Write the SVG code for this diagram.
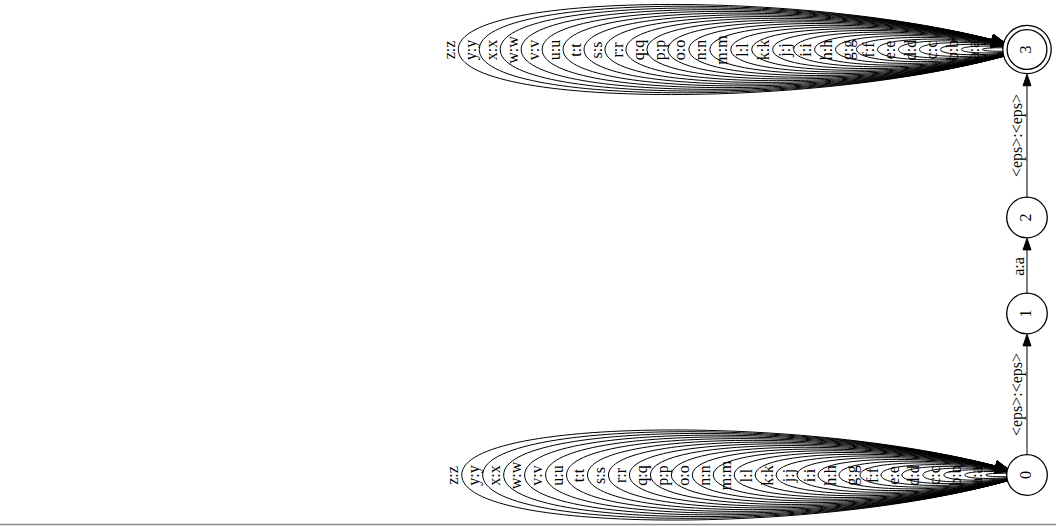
<svg xmlns="http://www.w3.org/2000/svg" width="1056" height="526" viewBox="0 0 1056 526">
<style>
.t{font-family:"Liberation Serif","Times New Roman",serif;font-size:16px;text-anchor:middle;fill:#000}
.lp{fill:none;stroke:#000;stroke-width:1}
.l0{marker-end:url(#h0)}
.l3{marker-end:url(#h3)}
.e{fill:none;stroke:#000;stroke-width:1}
.ah{fill:#000;stroke:#000;stroke-width:1}
.n{fill:#fff;stroke:#000;stroke-width:1.3}
.ni{fill:none;stroke:#000;stroke-width:1.3}
</style>
<defs>
<marker id="h0" markerUnits="userSpaceOnUse" orient="auto" viewBox="-40 -8 44 16" markerWidth="44" markerHeight="16" refX="0" refY="0">
<path d="M-20.9,0L-32.4,-4L-32.4,4Z" fill="#000" stroke="#000" stroke-width="1"/>
</marker>
<marker id="h3" markerUnits="userSpaceOnUse" orient="auto" viewBox="-40 -8 44 16" markerWidth="44" markerHeight="16" refX="0" refY="0">
<path d="M-24.8,0L-36.3,-4L-36.3,4Z" fill="#000" stroke="#000" stroke-width="1"/>
</marker>
</defs>
<rect x="0" y="0" width="1056" height="526" fill="#fff"/>
<line x1="0" y1="524.5" x2="1056" y2="524.5" stroke="#888" stroke-width="1.5"/>
<g id="connectors">
<g id="loops0">
<path class="lp l0" d="M1027,475C1013.25,477.31 985.74,477.31 985.74,475C985.74,472.69 1013.25,472.69 1027,475"/>
<path class="lp l0" d="M1027,475C1006.26,479.62 964.78,479.62 964.78,475C964.78,470.38 1006.26,470.38 1027,475"/>
<path class="lp l0" d="M1027,475C999.27,481.93 943.82,481.93 943.82,475C943.82,468.07 999.27,468.07 1027,475"/>
<path class="lp l0" d="M1027,475C992.29,484.24 922.86,484.24 922.86,475C922.86,465.76 992.29,465.76 1027,475"/>
<path class="lp l0" d="M1027,475C985.30,486.55 901.90,486.55 901.90,475C901.90,463.45 985.30,463.45 1027,475"/>
<path class="lp l0" d="M1027,475C978.31,488.86 880.94,488.86 880.94,475C880.94,461.14 978.31,461.14 1027,475"/>
<path class="lp l0" d="M1027,475C971.33,491.17 859.98,491.17 859.98,475C859.98,458.83 971.33,458.83 1027,475"/>
<path class="lp l0" d="M1027,475C964.34,493.48 839.02,493.48 839.02,475C839.02,456.52 964.34,456.52 1027,475"/>
<path class="lp l0" d="M1027,475C957.35,495.79 818.06,495.79 818.06,475C818.06,454.21 957.35,454.21 1027,475"/>
<path class="lp l0" d="M1027,475C950.37,498.10 797.10,498.10 797.10,475C797.10,451.90 950.37,451.90 1027,475"/>
<path class="lp l0" d="M1027,475C943.38,500.41 776.14,500.41 776.14,475C776.14,449.59 943.38,449.59 1027,475"/>
<path class="lp l0" d="M1027,475C936.39,502.72 755.18,502.72 755.18,475C755.18,447.28 936.39,447.28 1027,475"/>
<path class="lp l0" d="M1027,475C929.41,505.03 734.22,505.03 734.22,475C734.22,444.97 929.41,444.97 1027,475"/>
<path class="lp l0" d="M1027,475C922.42,507.34 713.26,507.34 713.26,475C713.26,442.66 922.42,442.66 1027,475"/>
<path class="lp l0" d="M1027,475C915.43,509.65 692.30,509.65 692.30,475C692.30,440.35 915.43,440.35 1027,475"/>
<path class="lp l0" d="M1027,475C908.45,511.96 671.34,511.96 671.34,475C671.34,438.04 908.45,438.04 1027,475"/>
<path class="lp l0" d="M1027,475C901.46,514.27 650.38,514.27 650.38,475C650.38,435.73 901.46,435.73 1027,475"/>
<path class="lp l0" d="M1027,475C894.47,516.58 629.42,516.58 629.42,475C629.42,433.42 894.47,433.42 1027,475"/>
<path class="lp l0" d="M1027,475C887.49,518.89 608.46,518.89 608.46,475C608.46,431.11 887.49,431.11 1027,475"/>
<path class="lp l0" d="M1027,475C880.50,521.20 587.50,521.20 587.50,475C587.50,428.80 880.50,428.80 1027,475"/>
<path class="lp l0" d="M1027,475C873.51,523.51 566.54,523.51 566.54,475C566.54,426.49 873.51,426.49 1027,475"/>
<path class="lp l0" d="M1027,475C866.53,525.82 545.58,525.82 545.58,475C545.58,424.18 866.53,424.18 1027,475"/>
<path class="lp l0" d="M1027,475C859.54,528.13 524.62,528.13 524.62,475C524.62,421.87 859.54,421.87 1027,475"/>
<path class="lp l0" d="M1027,475C852.55,530.44 503.66,530.44 503.66,475C503.66,419.56 852.55,419.56 1027,475"/>
<path class="lp l0" d="M1027,475C845.57,532.75 482.70,532.75 482.70,475C482.70,417.25 845.57,417.25 1027,475"/>
<path class="lp l0" d="M1027,475C838.58,535.06 461.74,535.06 461.74,475C461.74,414.94 838.58,414.94 1027,475"/>
</g>
<g id="loops0-labels">
<text class="t" transform="translate(982.34 475.5) rotate(-90)">a:a</text>
<text class="t" transform="translate(961.38 475.5) rotate(-90)">b:b</text>
<text class="t" transform="translate(940.42 475.5) rotate(-90)">c:c</text>
<text class="t" transform="translate(919.46 475.5) rotate(-90)">d:d</text>
<text class="t" transform="translate(898.50 475.5) rotate(-90)">e:e</text>
<text class="t" transform="translate(877.54 475.5) rotate(-90)">f:f</text>
<text class="t" transform="translate(856.58 475.5) rotate(-90)">g:g</text>
<text class="t" transform="translate(835.62 475.5) rotate(-90)">h:h</text>
<text class="t" transform="translate(814.66 475.5) rotate(-90)">i:i</text>
<text class="t" transform="translate(793.70 475.5) rotate(-90)">j:j</text>
<text class="t" transform="translate(772.74 475.5) rotate(-90)">k:k</text>
<text class="t" transform="translate(751.78 475.5) rotate(-90)">l:l</text>
<text class="t" transform="translate(730.82 475.5) rotate(-90)">m:m</text>
<text class="t" transform="translate(709.86 475.5) rotate(-90)">n:n</text>
<text class="t" transform="translate(688.90 475.5) rotate(-90)">o:o</text>
<text class="t" transform="translate(667.94 475.5) rotate(-90)">p:p</text>
<text class="t" transform="translate(646.98 475.5) rotate(-90)">q:q</text>
<text class="t" transform="translate(626.02 475.5) rotate(-90)">r:r</text>
<text class="t" transform="translate(605.06 475.5) rotate(-90)">s:s</text>
<text class="t" transform="translate(584.10 475.5) rotate(-90)">t:t</text>
<text class="t" transform="translate(563.14 475.5) rotate(-90)">u:u</text>
<text class="t" transform="translate(542.18 475.5) rotate(-90)">v:v</text>
<text class="t" transform="translate(521.22 475.5) rotate(-90)">w:w</text>
<text class="t" transform="translate(500.26 475.5) rotate(-90)">x:x</text>
<text class="t" transform="translate(479.30 475.5) rotate(-90)">y:y</text>
<text class="t" transform="translate(458.34 475.5) rotate(-90)">z:z</text>
</g>
<g id="loops3">
<path class="lp l3" d="M1027,49.5C1012.10,51.81 982.30,51.81 982.30,49.5C982.30,47.19 1012.10,47.19 1027,49.5"/>
<path class="lp l3" d="M1027,49.5C1005.11,54.12 961.34,54.12 961.34,49.5C961.34,44.88 1005.11,44.88 1027,49.5"/>
<path class="lp l3" d="M1027,49.5C998.13,56.43 940.38,56.43 940.38,49.5C940.38,42.57 998.13,42.57 1027,49.5"/>
<path class="lp l3" d="M1027,49.5C991.14,58.74 919.42,58.74 919.42,49.5C919.42,40.26 991.14,40.26 1027,49.5"/>
<path class="lp l3" d="M1027,49.5C984.15,61.05 898.46,61.05 898.46,49.5C898.46,37.95 984.15,37.95 1027,49.5"/>
<path class="lp l3" d="M1027,49.5C977.17,63.36 877.50,63.36 877.50,49.5C877.50,35.64 977.17,35.64 1027,49.5"/>
<path class="lp l3" d="M1027,49.5C970.18,65.67 856.54,65.67 856.54,49.5C856.54,33.33 970.18,33.33 1027,49.5"/>
<path class="lp l3" d="M1027,49.5C963.19,67.98 835.58,67.98 835.58,49.5C835.58,31.02 963.19,31.02 1027,49.5"/>
<path class="lp l3" d="M1027,49.5C956.21,70.29 814.62,70.29 814.62,49.5C814.62,28.71 956.21,28.71 1027,49.5"/>
<path class="lp l3" d="M1027,49.5C949.22,72.60 793.66,72.60 793.66,49.5C793.66,26.40 949.22,26.40 1027,49.5"/>
<path class="lp l3" d="M1027,49.5C942.23,74.91 772.70,74.91 772.70,49.5C772.70,24.09 942.23,24.09 1027,49.5"/>
<path class="lp l3" d="M1027,49.5C935.25,77.22 751.74,77.22 751.74,49.5C751.74,21.78 935.25,21.78 1027,49.5"/>
<path class="lp l3" d="M1027,49.5C928.26,79.53 730.78,79.53 730.78,49.5C730.78,19.47 928.26,19.47 1027,49.5"/>
<path class="lp l3" d="M1027,49.5C921.27,81.84 709.82,81.84 709.82,49.5C709.82,17.16 921.27,17.16 1027,49.5"/>
<path class="lp l3" d="M1027,49.5C914.29,84.15 688.86,84.15 688.86,49.5C688.86,14.85 914.29,14.85 1027,49.5"/>
<path class="lp l3" d="M1027,49.5C907.30,86.46 667.90,86.46 667.90,49.5C667.90,12.54 907.30,12.54 1027,49.5"/>
<path class="lp l3" d="M1027,49.5C900.31,88.77 646.94,88.77 646.94,49.5C646.94,10.23 900.31,10.23 1027,49.5"/>
<path class="lp l3" d="M1027,49.5C893.33,91.08 625.98,91.08 625.98,49.5C625.98,7.92 893.33,7.92 1027,49.5"/>
<path class="lp l3" d="M1027,49.5C886.34,93.39 605.02,93.39 605.02,49.5C605.02,5.61 886.34,5.61 1027,49.5"/>
<path class="lp l3" d="M1027,49.5C879.35,95.70 584.06,95.70 584.06,49.5C584.06,3.30 879.35,3.30 1027,49.5"/>
<path class="lp l3" d="M1027,49.5C872.37,98.01 563.10,98.01 563.10,49.5C563.10,0.99 872.37,0.99 1027,49.5"/>
<path class="lp l3" d="M1027,49.5C865.38,100.32 542.14,100.32 542.14,49.5C542.14,-1.32 865.38,-1.32 1027,49.5"/>
<path class="lp l3" d="M1027,49.5C858.39,102.63 521.18,102.63 521.18,49.5C521.18,-3.63 858.39,-3.63 1027,49.5"/>
<path class="lp l3" d="M1027,49.5C851.41,104.94 500.22,104.94 500.22,49.5C500.22,-5.94 851.41,-5.94 1027,49.5"/>
<path class="lp l3" d="M1027,49.5C844.42,107.25 479.26,107.25 479.26,49.5C479.26,-8.25 844.42,-8.25 1027,49.5"/>
<path class="lp l3" d="M1027,49.5C837.43,109.56 458.30,109.56 458.30,49.5C458.30,-10.56 837.43,-10.56 1027,49.5"/>
</g>
<g id="loops3-labels">
<text class="t" transform="translate(978.90 50) rotate(-90)">a:a</text>
<text class="t" transform="translate(957.94 50) rotate(-90)">b:b</text>
<text class="t" transform="translate(936.98 50) rotate(-90)">c:c</text>
<text class="t" transform="translate(916.02 50) rotate(-90)">d:d</text>
<text class="t" transform="translate(895.06 50) rotate(-90)">e:e</text>
<text class="t" transform="translate(874.10 50) rotate(-90)">f:f</text>
<text class="t" transform="translate(853.14 50) rotate(-90)">g:g</text>
<text class="t" transform="translate(832.18 50) rotate(-90)">h:h</text>
<text class="t" transform="translate(811.22 50) rotate(-90)">i:i</text>
<text class="t" transform="translate(790.26 50) rotate(-90)">j:j</text>
<text class="t" transform="translate(769.30 50) rotate(-90)">k:k</text>
<text class="t" transform="translate(748.34 50) rotate(-90)">l:l</text>
<text class="t" transform="translate(727.38 50) rotate(-90)">m:m</text>
<text class="t" transform="translate(706.42 50) rotate(-90)">n:n</text>
<text class="t" transform="translate(685.46 50) rotate(-90)">o:o</text>
<text class="t" transform="translate(664.50 50) rotate(-90)">p:p</text>
<text class="t" transform="translate(643.54 50) rotate(-90)">q:q</text>
<text class="t" transform="translate(622.58 50) rotate(-90)">r:r</text>
<text class="t" transform="translate(601.62 50) rotate(-90)">s:s</text>
<text class="t" transform="translate(580.66 50) rotate(-90)">t:t</text>
<text class="t" transform="translate(559.70 50) rotate(-90)">u:u</text>
<text class="t" transform="translate(538.74 50) rotate(-90)">v:v</text>
<text class="t" transform="translate(517.78 50) rotate(-90)">w:w</text>
<text class="t" transform="translate(496.82 50) rotate(-90)">x:x</text>
<text class="t" transform="translate(475.86 50) rotate(-90)">y:y</text>
<text class="t" transform="translate(454.90 50) rotate(-90)">z:z</text>
</g>
<g id="e0-1">
<line class="e" x1="1027" y1="454.7" x2="1027" y2="345.9"/>
<polygon class="ah" points="1027,334.4 1023,345.9 1031,345.9"/>
<text class="t" transform="translate(1021.5 394.5) rotate(-90)">&lt;eps&gt;:&lt;eps&gt;</text>
</g>
<g id="e1-2">
<line class="e" x1="1027" y1="293.2" x2="1027" y2="249.9"/>
<polygon class="ah" points="1027,238.4 1023,249.9 1031,249.9"/>
<text class="t" transform="translate(1023.5 266.5) rotate(-90)">a:a</text>
</g>
<g id="e2-3">
<line class="e" x1="1027" y1="197.2" x2="1027" y2="85.8"/>
<polygon class="ah" points="1027,74.3 1023,85.8 1031,85.8"/>
<text class="t" transform="translate(1021.5 135.5) rotate(-90)">&lt;eps&gt;:&lt;eps&gt;</text>
</g>
</g>
<g id="node0">
<circle class="n" cx="1027" cy="475" r="20.3"/>
<text class="t" transform="translate(1030.8 475) rotate(-90)">0</text>
</g>
<g id="node1">
<circle class="n" cx="1027" cy="313.5" r="20.3"/>
<text class="t" transform="translate(1030.8 313.5) rotate(-90)">1</text>
</g>
<g id="node2">
<circle class="n" cx="1027" cy="217.5" r="20.3"/>
<text class="t" transform="translate(1030.8 217.5) rotate(-90)">2</text>
</g>
<g id="node3">
<circle class="n" cx="1027" cy="49.5" r="24.2"/>
<circle class="ni" cx="1027" cy="49.5" r="19.9"/>
<text class="t" transform="translate(1030.8 49.5) rotate(-90)">3</text>
</g>
</svg>
